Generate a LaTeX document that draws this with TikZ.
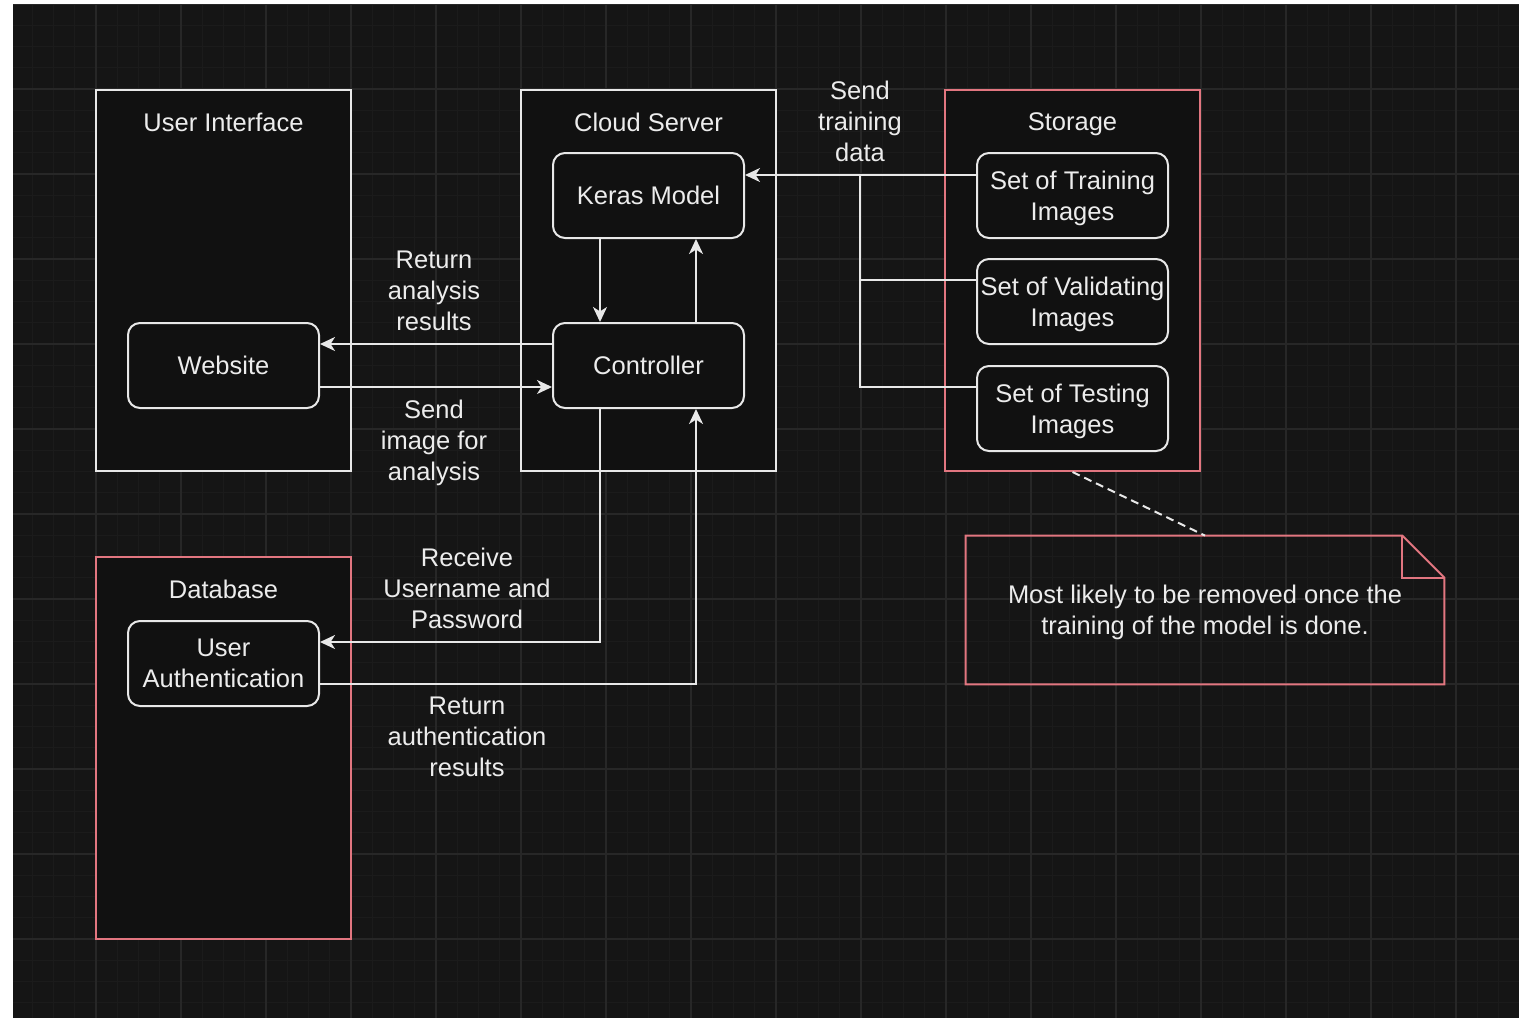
\documentclass[tikz,border=0pt]{standalone}
\usepackage{fontspec}
\setmainfont{Liberation Sans}
\usetikzlibrary{arrows.meta,calc}
\definecolor{canvas}{RGB}{21,21,21}
\definecolor{panel}{RGB}{17,17,17}
\definecolor{gridminor}{RGB}{27,27,27}
\definecolor{gridmajor}{RGB}{39,39,39}
\definecolor{ink}{RGB}{236,236,236}
\definecolor{edge}{RGB}{232,232,232}
\definecolor{alert}{RGB}{226,118,128}

\begin{document}
\begin{tikzpicture}[x=0.5pt,y=-0.5pt,
  every node/.style={font=\fontsize{12.75pt}{15.5pt}\selectfont, text=ink, align=center, inner sep=0pt},
  container/.style={draw=edge, line width=1pt, fill=panel, minimum width=127.5pt, minimum height=190.5pt},
  redcontainer/.style={container, draw=alert},
  item/.style={draw=edge, line width=1pt, rounded corners=6pt, fill=panel, minimum width=95.5pt, minimum height=42.5pt},
  flow/.style={draw=edge, line width=1pt, -{Stealth[length=7.5pt,width=7pt,inset=2.2pt]}},
  link/.style={draw=edge, line width=1pt},
  notebody/.style={minimum width=239pt, minimum height=74pt},
]

% canvas with its grid
\fill[white] (0,0) rectangle (1519,1018);
\fill[canvas] (13,4) rectangle (1519,1018);
\begin{scope}
  \clip (13,4) rectangle (1519,1018);
  \foreach \k in {0,...,71}
    \draw[gridminor, line width=0.5pt] ({11+21.25*\k},4) -- ++(0,1014);
  \foreach \k in {0,...,48}
    \draw[gridminor, line width=0.5pt] (13,{4+21.25*\k}) -- ++(1506,0);
  \foreach \k in {0,...,18}
    \draw[gridmajor, line width=0.7pt] ({11+85*\k},4) -- ++(0,1014);
  \foreach \k in {0,...,12}
    \draw[gridmajor, line width=0.7pt] (13,{4+85*\k}) -- ++(1506,0);
\end{scope}

% containers
\node[container] (ui) at (223.5,280.5) {};
\node[container] (cloud) at (648.5,280.5) {};
\node[redcontainer] (storage) at (1072.5,280.5) {};
\node[redcontainer, minimum height=191pt] (db) at (223.5,748) {};

\node (uititle) at (223.5,122) {User Interface};
\node (cloudtitle) at (648.5,122) {Cloud Server};
\node[text depth=0pt] (storagetitle) at (1072.5,122) {Storage};
\node (dbtitle) at (223.5,589) {Database};

% components
\node[item] (web) at (223.5,365.5) {Website};
\node[item] (auth) at (223.5,663.5) {User\\Authentication};
\node[item] (keras) at (648.5,195.5) {Keras Model};
\node[item] (ctrl) at (648.5,365.5) {Controller};
\node[item] (train) at (1072.5,195.5) {Set of Training\\\smash{Images}};
\node[item] (valid) at (1072.5,301.5) {Set of Validating\\\smash{Images}};
\node[item] (test) at (1072.5,408.5) {Set of Testing\\\smash{Images}};

% note
\node[notebody] (note) at (1205,610) {Most likely to be removed once the\\\smash{training of the model is done.}};
\draw[alert, line width=1pt]
  (note.north west) -- ([xshift=-21pt]note.north east) -- ([yshift=-21pt]note.north east)
  -- (note.south east) -- (note.south west) -- cycle;
\draw[alert, line width=1pt]
  ([xshift=-21pt]note.north east) -- ([xshift=-21pt,yshift=-21pt]note.north east)
  -- ([yshift=-21pt]note.north east);
\draw[edge, line width=1pt, dash pattern=on 4pt off 2.5pt] (storage.south) -- (note.north);

% training data feeding the model
\coordinate (hub) at (860,175);
\draw[flow] (train.west |- 0,175) -- (keras.east |- 0,175);
\draw[link] (valid.west |- 0,280) -| (hub);
\draw[link] (test.west |- 0,387) -| (hub);

% website and controller
\draw[flow] (ctrl.west |- 0,344) -- (web.east |- 0,344);
\draw[flow] (web.east |- 0,387) -- (ctrl.west |- 0,387);

% model and controller
\draw[flow] (keras.south -| 600,0) -- (ctrl.north -| 600,0);
\draw[flow] (ctrl.north -| 696,0) -- (keras.south -| 696,0);

% controller and authentication
\draw[flow] (ctrl.south -| 600,0) |- (auth.east |- 0,642);
\draw[flow] (auth.east |- 0,684) -| (ctrl.south -| 696,0);

% connector labels
\node (lbltrain) at (860,121) {Send\\training\\data};
\node (lblresult) at (434,291) {Return\\analysis\\results};
\node (lblsend) at (434,440) {Send\\image for\\\smash{analysis}};
\node (lblrecv) at (467,588) {Receive\\Username and\\Password};
\node (lblauth) at (467,737) {Return\\authentication\\results};

\useasboundingbox (0,0) rectangle (1519,1018);
\end{tikzpicture}
\end{document}
